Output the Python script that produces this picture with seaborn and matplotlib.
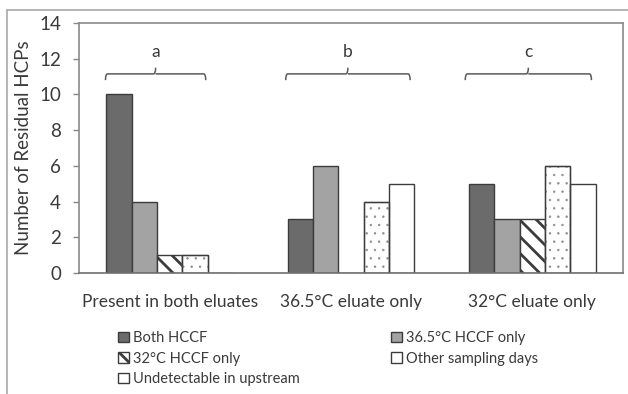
import matplotlib
matplotlib.use("Agg")
import matplotlib.pyplot as plt
import seaborn as sns
import pandas as pd
from matplotlib.patches import Patch, Rectangle
from matplotlib.lines import Line2D
from matplotlib.path import Path
from matplotlib.patches import PathPatch

# ---- data ----
categories = ["Present in both eluates", "36.5\u00b0C eluate only", "32\u00b0C eluate only"]
series = ["Both HCCF", "36.5\u00b0C HCCF only", "32\u00b0C HCCF only",
          "Other sampling days", "Undetectable in upstream"]
both_hccf = [10, 3, 5]
hccf_365_only = [4, 6, 3]
hccf_32_only = [1, 0, 3]
other_days = [1, 4, 6]
undetectable = [0, 5, 5]
group_letters = ["a", "b", "c"]
y_ticks = [0, 2, 4, 6, 8, 10, 12, 14]

values = [both_hccf, hccf_365_only, hccf_32_only, other_days, undetectable]
rows = []
for s, vals in zip(series, values):
    for c, v in zip(categories, vals):
        rows.append({"Category": c, "Series": s, "Count": v})
df = pd.DataFrame(rows)

# ---- style ----
sns.set_theme(style="white")
plt.rcParams["font.family"] = ["Lato", "DejaVu Sans"]
plt.rcParams["hatch.linewidth"] = 2.0

W, H = 628, 394
fig = plt.figure(figsize=(W / 100, H / 100), dpi=100)
fig.patch.set_facecolor("white")
ax = fig.add_axes([79 / W, 1 - 273 / H, (623 - 79) / W, (273 - 23) / H])

face = ["#6b6b6b", "#a3a3a3", "white", "white", "white"]
hatches = [None, None, "\\\\", "..", None]
hatch_lw = [None, None, 2.0, 0.5, None]
hatch_col = [None, None, "#3c3c3c", "#8c8c8c", None]
edge = "#3c3c3c"
text_col = "#3a3a3a"


def style_patch(p, fc, h, hlw, hc):
    p.set_facecolor(fc)
    if h:
        p.set_edgecolor(hc)   # hatch colour follows the edge colour
        p.set_hatch(h)
        if hlw and hasattr(p, "set_hatch_linewidth"):
            p.set_hatch_linewidth(hlw)
    else:
        p.set_edgecolor(edge)


sns.barplot(data=df, x="Category", y="Count", hue="Series", order=categories,
            hue_order=series, width=0.7, palette=face, edgecolor=edge,
            linewidth=1.0, saturation=1, ax=ax, legend=False)

for cont, fc, h, hlw, hc in zip(ax.containers, face, hatches, hatch_lw, hatch_col):
    for bar in cont:
        style_patch(bar, fc, h, hlw, hc)
        if h and hc != edge:
            # dark outline on top of the light-gray hatched bar
            ax.add_patch(Rectangle(bar.get_xy(), bar.get_width(), bar.get_height(),
                                   fill=False, edgecolor=edge, linewidth=1.0, zorder=bar.get_zorder() + 0.1))

ax.set_ylim(0, 14)
ax.set_xlim(-0.5, 2.5)
ax.set_yticks(y_ticks)
ax.set_xlabel("")
ax.set_ylabel("Number of Residual HCPs", fontsize=13.5, color=text_col, labelpad=5)
ax.tick_params(axis="y", which="both", left=True, length=4, width=1, color="#888888",
               pad=9, labelsize=13.5, labelcolor=text_col, direction="out")
ax.tick_params(axis="x", length=0, pad=15, labelsize=12.5, labelcolor=text_col)
for side in ["top", "right", "left"]:
    ax.spines[side].set_visible(True)
    ax.spines[side].set_color("#8a8a8a")
    ax.spines[side].set_linewidth(1.2)
ax.spines["bottom"].set_color("#707070")
ax.spines["bottom"].set_linewidth(1.2)
ax.spines["bottom"].set_zorder(5)

# ---- brackets ----
spans = [(-0.354, 0.199), (-0.36, 0.326), (-0.37, 0.326)]
for i, (letter, (l, r)) in enumerate(zip(group_letters, spans)):
    L, R = i + l, i + r
    M = (L + R) / 2
    yb, ye, ym = 11.15, 10.8, 11.5
    dx = 0.012
    verts = [(L, ye), (L, yb), (L + dx, yb),
             (M - dx, yb), (M, yb), (M, ym),
             (M, yb), (M + dx, yb),
             (R - dx, yb), (R, yb), (R, ye)]
    codes = [Path.MOVETO, Path.CURVE3, Path.CURVE3,
             Path.LINETO, Path.CURVE3, Path.CURVE3,
             Path.MOVETO, Path.LINETO,
             Path.LINETO, Path.CURVE3, Path.CURVE3]
    ax.add_patch(PathPatch(Path(verts, codes), fill=False, edgecolor="#5a5a5a", lw=1.1))
    ax.text(M, 12.35, letter, ha="center", va="center", fontsize=12.5, color=text_col)

# ---- legends ----
handles = []
for fc, h, hlw, hc in zip(face, hatches, hatch_lw, hatch_col):
    p = Patch(linewidth=1.0)
    p.set_facecolor(fc)
    p.set_edgecolor(edge)
    if h == "\\\\":
        p.set_hatch("\\\\")
    handles.append(p)
leg_kw = dict(frameon=False, fontsize=10.5, handlelength=0.75, handleheight=0.75,
              handletextpad=0.3, labelspacing=0.45, borderpad=0, borderaxespad=0,
              labelcolor=text_col)
leg1 = fig.legend([handles[0], handles[2], handles[4]], [series[0], series[2], series[4]],
                  loc="upper left", bbox_to_anchor=(118 / W, 1 - 331 / H), **leg_kw)
leg2 = fig.legend([handles[1], handles[3]], [series[1], series[3]],
                  loc="upper left", bbox_to_anchor=(391 / W, 1 - 331 / H), **leg_kw)

# ---- outer frame ----
fig.add_artist(Line2D([7 / W, 7 / W], [1 - 10 / H, 0], transform=fig.transFigure,
                      color="#a8a8a8", lw=1.2))
fig.add_artist(Line2D([7 / W, 1], [1 - 10 / H, 1 - 10 / H], transform=fig.transFigure,
                      color="#a8a8a8", lw=1.2))

fig.savefig("out.png", dpi=100)
